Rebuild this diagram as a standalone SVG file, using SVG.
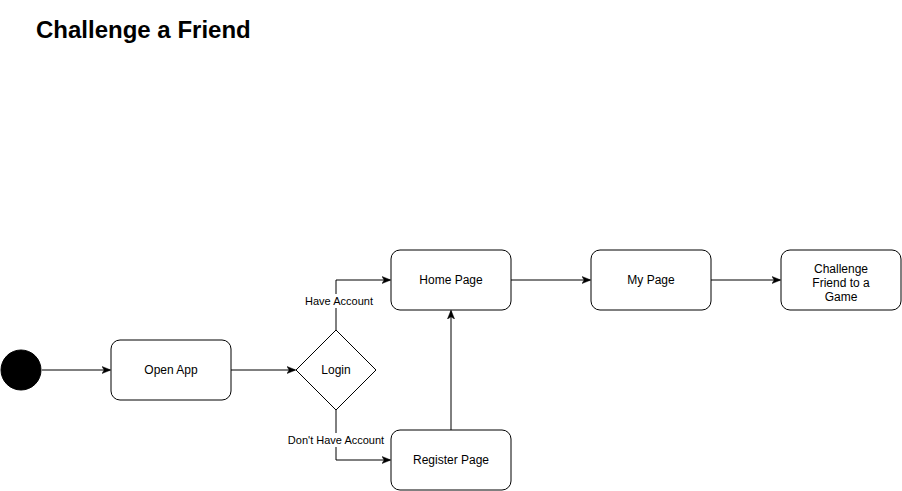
<svg xmlns="http://www.w3.org/2000/svg" width="902" height="491" viewBox="0 0 902 491">
<defs>
<style>
.node{fill:#fff;stroke:#000;stroke-width:1}
.t{font-family:"Liberation Sans",Arial,sans-serif;font-size:12px;fill:#000;text-anchor:middle}
.lbl{font-family:"Liberation Sans",Arial,sans-serif;font-size:11px;fill:#000;text-anchor:middle}
.e{fill:none;stroke:#000;stroke-width:1}
</style>
<marker id="arr" viewBox="0 0 10 10" refX="9" refY="5" markerWidth="9" markerHeight="9" markerUnits="userSpaceOnUse" orient="auto">
<path d="M0,1 L10,5 L0,9 L2.5,5 Z" fill="#000" stroke="#000" stroke-width="0.5"/>
</marker>
</defs>
<rect width="902" height="491" fill="#fff"/>
<text x="36" y="38" font-family="'Liberation Sans',Arial,sans-serif" font-size="24" font-weight="bold" fill="#000">Challenge a Friend</text>
<g id="connectors">
<path class="e" d="M42,370 H110" marker-end="url(#arr)"/>
<path class="e" d="M231,370 H295" marker-end="url(#arr)"/>
<path class="e" d="M336,330 V280 H390" marker-end="url(#arr)"/>
<path class="e" d="M336,410 V460 H390" marker-end="url(#arr)"/>
<path class="e" d="M451,430 V311" marker-end="url(#arr)"/>
<path class="e" d="M511,280 H590" marker-end="url(#arr)"/>
<path class="e" d="M711,280 H780" marker-end="url(#arr)"/>
<rect x="304" y="294" width="71" height="14" fill="#fff"/>
<text class="lbl" x="339" y="305">Have Account</text>
<rect x="287" y="433" width="98" height="14" fill="#fff"/>
<text class="lbl" x="336" y="444">Don't Have Account</text>
</g>
<g id="start"><circle cx="21" cy="370" r="20" fill="#000" stroke="#000"/></g>
<g id="open-app"><rect class="node" x="111" y="340" width="120" height="60" rx="9"/><text class="t" x="171" y="374">Open App</text></g>
<g id="login"><path class="node" d="M336,330 L376,370 L336,410 L296,370 Z"/><text class="t" x="336" y="374">Login</text></g>
<g id="home-page"><rect class="node" x="391" y="250" width="120" height="60" rx="9"/><text class="t" x="451" y="284">Home Page</text></g>
<g id="register-page"><rect class="node" x="391" y="430" width="120" height="60" rx="9"/><text class="t" x="451" y="464">Register Page</text></g>
<g id="my-page"><rect class="node" x="591" y="250" width="120" height="60" rx="9"/><text class="t" x="651" y="284">My Page</text></g>
<g id="challenge"><rect class="node" x="781" y="250" width="120" height="60" rx="9"/>
<text class="t" x="841" y="273">Challenge</text><text class="t" x="841" y="287">Friend to a</text><text class="t" x="841" y="301">Game</text></g>
</svg>
